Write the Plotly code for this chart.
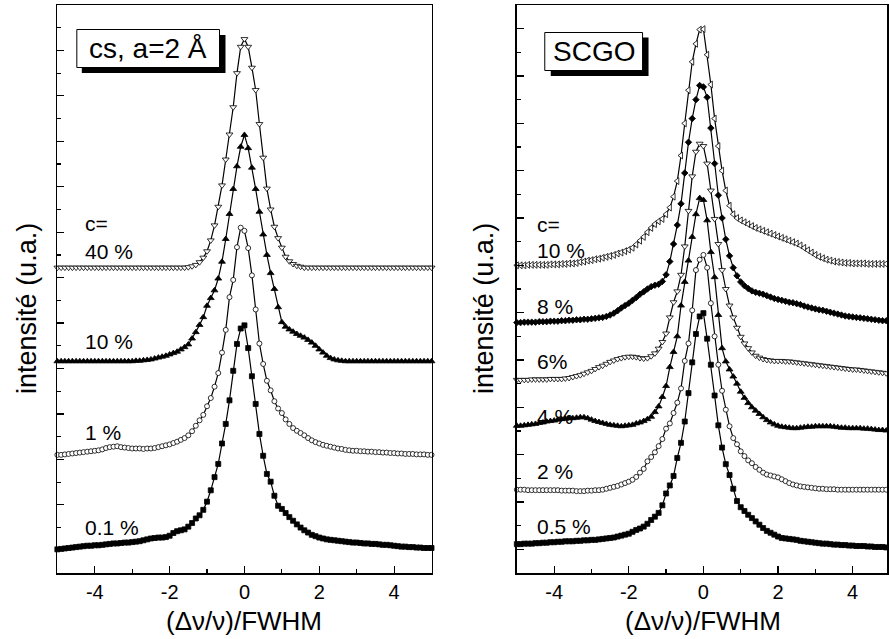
import plotly.graph_objects as go

# ---------------- data ----------------
X = [round(-5 + 0.1 * i, 1) for i in range(101)]  # sample grid, (Δν/ν)/FWHM

# left panel: "cs, a=2 Å"
L_LABELS = ["40 %", "10 %", "1 %", "0.1 %"]
L40 = [6.22, 6.22, 6.22, 6.22, 6.22, 6.22, 6.22, 6.22, 6.22, 6.22,
       6.22, 6.22, 6.22, 6.22, 6.22, 6.22, 6.22, 6.22, 6.22, 6.22,
       6.22, 6.22, 6.22, 6.22, 6.22, 6.22, 6.22, 6.22, 6.22, 6.22,
       6.22, 6.22, 6.22, 6.22, 6.22, 6.23, 6.25, 6.28, 6.34, 6.44,
       6.58, 6.82, 7.15, 7.56, 8.03, 8.60, 9.15, 9.75, 10.50, 11.08,
       11.25, 11.08, 10.62, 10.13, 9.38, 8.64, 7.96, 7.50, 7.12, 6.87,
       6.66, 6.46, 6.36, 6.30, 6.26, 6.24, 6.22, 6.22, 6.22, 6.22,
       6.22, 6.22, 6.22, 6.22, 6.22, 6.22, 6.22, 6.22, 6.22, 6.22,
       6.22, 6.22, 6.22, 6.22, 6.22, 6.22, 6.22, 6.22, 6.22, 6.22,
       6.22, 6.22, 6.22, 6.22, 6.22, 6.22, 6.22, 6.22, 6.22, 6.22,
       6.22]
L10 = [4.16, 4.16, 4.16, 4.16, 4.16, 4.16, 4.16, 4.16, 4.16, 4.16,
       4.16, 4.16, 4.16, 4.16, 4.16, 4.16, 4.16, 4.16, 4.16, 4.16,
       4.16, 4.17, 4.17, 4.18, 4.19, 4.20, 4.22, 4.24, 4.26, 4.28,
       4.31, 4.34, 4.37, 4.42, 4.47, 4.53, 4.66, 4.80, 4.96, 5.13,
       5.38, 5.55, 5.72, 5.98, 6.35, 6.85, 7.40, 7.95, 8.45, 8.88,
       9.14, 8.85, 8.42, 7.95, 7.45, 6.95, 6.50, 6.10, 5.75, 5.35,
       5.02, 4.92, 4.86, 4.81, 4.76, 4.72, 4.68, 4.63, 4.57, 4.50,
       4.42, 4.35, 4.28, 4.23, 4.20, 4.18, 4.17, 4.16, 4.16, 4.16,
       4.16, 4.16, 4.16, 4.16, 4.16, 4.16, 4.16, 4.16, 4.16, 4.16,
       4.16, 4.16, 4.16, 4.16, 4.16, 4.16, 4.16, 4.16, 4.16, 4.16,
       4.16]
L1 = [2.10, 2.10, 2.11, 2.12, 2.13, 2.14, 2.15, 2.16, 2.17, 2.18,
      2.19, 2.20, 2.22, 2.25, 2.27, 2.28, 2.29, 2.27, 2.26, 2.25,
      2.24, 2.24, 2.24, 2.23, 2.24, 2.24, 2.25, 2.27, 2.29, 2.31,
      2.33, 2.36, 2.39, 2.43, 2.47, 2.53, 2.62, 2.74, 2.86, 2.98,
      3.17, 3.35, 3.60, 3.90, 4.35, 4.85, 5.57, 5.95, 6.67, 7.10,
      7.03, 6.65, 6.05, 5.30, 4.55, 4.10, 3.73, 3.52, 3.28, 3.12,
      3.02, 2.88, 2.78, 2.69, 2.63, 2.58, 2.53, 2.47, 2.42, 2.38,
      2.35, 2.32, 2.30, 2.28, 2.26, 2.24, 2.23, 2.21, 2.20, 2.19,
      2.19, 2.18, 2.18, 2.17, 2.17, 2.16, 2.16, 2.15, 2.15, 2.14,
      2.14, 2.13, 2.13, 2.12, 2.12, 2.12, 2.11, 2.11, 2.11, 2.10,
      2.10]
L01 = [0.02, 0.03, 0.04, 0.05, 0.06, 0.07, 0.08, 0.09, 0.10, 0.10,
       0.11, 0.11, 0.12, 0.13, 0.14, 0.15, 0.15, 0.16, 0.17, 0.17,
       0.18, 0.19, 0.20, 0.22, 0.24, 0.26, 0.27, 0.28, 0.28, 0.29,
       0.32, 0.38, 0.42, 0.44, 0.46, 0.52, 0.60, 0.70, 0.77, 0.89,
       1.07, 1.32, 1.61, 1.90, 2.35, 2.78, 3.30, 3.95, 4.54, 4.88,
       4.95, 4.45, 3.83, 3.22, 2.56, 2.08, 1.68, 1.51, 1.20, 0.98,
       0.91, 0.82, 0.73, 0.65, 0.57, 0.50, 0.44, 0.39, 0.34, 0.31,
       0.28, 0.26, 0.24, 0.23, 0.22, 0.21, 0.20, 0.19, 0.18, 0.17,
       0.17, 0.16, 0.15, 0.15, 0.14, 0.14, 0.13, 0.12, 0.12, 0.11,
       0.10, 0.09, 0.08, 0.08, 0.07, 0.07, 0.06, 0.06, 0.05, 0.05,
       0.05]

# right panel: SCGO
R_LABELS = ["10 %", "8 %", "6%", "4 %", "2 %", "0.5 %"]
R10 = [6.00, 6.00, 6.00, 6.01, 6.01, 6.01, 6.01, 6.01, 6.01, 6.02,
       6.02, 6.02, 6.03, 6.03, 6.04, 6.04, 6.05, 6.07, 6.08, 6.10,
       6.11, 6.13, 6.14, 6.16, 6.18, 6.20, 6.22, 6.25, 6.27, 6.30,
       6.33, 6.37, 6.44, 6.52, 6.60, 6.70, 6.79, 6.87, 6.93, 6.98,
       7.08, 7.22, 7.45, 7.78, 8.32, 9.00, 9.70, 10.30, 10.68, 10.98,
       10.99, 10.45, 9.82, 9.10, 8.52, 8.00, 7.58, 7.26, 7.08, 7.00,
       6.95, 6.91, 6.87, 6.83, 6.79, 6.76, 6.73, 6.70, 6.67, 6.64,
       6.61, 6.58, 6.55, 6.52, 6.49, 6.46, 6.42, 6.37, 6.32, 6.27,
       6.22, 6.18, 6.15, 6.12, 6.10, 6.08, 6.07, 6.06, 6.05, 6.05,
       6.04, 6.04, 6.04, 6.04, 6.03, 6.03, 6.03, 6.03, 6.03, 6.03,
       6.03]
R8 = [4.79, 4.79, 4.80, 4.80, 4.80, 4.80, 4.81, 4.81, 4.81, 4.82,
      4.82, 4.82, 4.83, 4.83, 4.84, 4.84, 4.85, 4.85, 4.86, 4.86,
      4.87, 4.88, 4.89, 4.90, 4.92, 4.95, 4.99, 5.04, 5.10, 5.15,
      5.20, 5.26, 5.32, 5.39, 5.44, 5.50, 5.55, 5.58, 5.60, 5.66,
      5.80, 6.08, 6.45, 6.85, 7.30, 7.95, 8.60, 9.10, 9.50, 9.80,
      9.77, 9.55, 8.90, 8.15, 7.48, 7.00, 6.55, 6.20, 5.95, 5.78,
      5.65, 5.57, 5.51, 5.46, 5.43, 5.41, 5.39, 5.36, 5.33, 5.30,
      5.28, 5.26, 5.24, 5.22, 5.21, 5.19, 5.17, 5.14, 5.12, 5.10,
      5.08, 5.06, 5.05, 5.03, 5.01, 4.99, 4.97, 4.95, 4.93, 4.92,
      4.91, 4.90, 4.89, 4.88, 4.87, 4.86, 4.85, 4.84, 4.83, 4.83,
      4.82]
R6 = [3.58, 3.58, 3.58, 3.58, 3.59, 3.59, 3.59, 3.59, 3.59, 3.60,
      3.60, 3.60, 3.60, 3.61, 3.62, 3.64, 3.66, 3.68, 3.71, 3.74,
      3.77, 3.81, 3.85, 3.88, 3.92, 3.96, 3.99, 4.02, 4.04, 4.06,
      4.07, 4.07, 4.06, 4.04, 4.03, 4.04, 4.08, 4.14, 4.24, 4.38,
      4.56, 4.90, 5.22, 5.45, 5.80, 6.40, 7.15, 7.88, 8.40, 8.57,
      8.52, 8.15, 7.58, 6.98, 6.45, 5.90, 5.50, 5.15, 4.90, 4.68,
      4.49, 4.35, 4.25, 4.16, 4.09, 4.05, 4.02, 4.00, 3.99, 3.98,
      3.98, 3.98, 3.97, 3.97, 3.96, 3.95, 3.94, 3.93, 3.92, 3.91,
      3.90, 3.89, 3.88, 3.87, 3.86, 3.85, 3.84, 3.83, 3.82, 3.81,
      3.80, 3.80, 3.79, 3.78, 3.77, 3.76, 3.75, 3.74, 3.73, 3.72,
      3.72]
R4 = [2.61, 2.61, 2.62, 2.63, 2.64, 2.65, 2.67, 2.68, 2.70, 2.71,
      2.72, 2.74, 2.75, 2.76, 2.77, 2.77, 2.78, 2.79, 2.79, 2.77,
      2.74, 2.71, 2.69, 2.67, 2.65, 2.63, 2.62, 2.61, 2.60, 2.61,
      2.62, 2.63, 2.66, 2.68, 2.71, 2.75, 2.80, 2.90, 3.02, 3.22,
      3.45, 3.85, 4.17, 4.50, 5.15, 5.65, 6.10, 6.60, 7.08, 7.42,
      7.38, 6.95, 6.28, 5.75, 4.95, 4.25, 3.97, 3.80, 3.65, 3.50,
      3.33, 3.20, 3.09, 3.00, 2.93, 2.86, 2.79, 2.73, 2.68, 2.64,
      2.61, 2.59, 2.58, 2.57, 2.56, 2.56, 2.57, 2.58, 2.59, 2.59,
      2.60, 2.60, 2.60, 2.60, 2.60, 2.59, 2.58, 2.57, 2.57, 2.56,
      2.56, 2.56, 2.56, 2.55, 2.55, 2.54, 2.53, 2.52, 2.52, 2.51,
      2.51]
R2 = [1.26, 1.26, 1.26, 1.25, 1.25, 1.25, 1.25, 1.25, 1.25, 1.25,
      1.25, 1.25, 1.24, 1.24, 1.24, 1.24, 1.23, 1.23, 1.23, 1.24,
      1.24, 1.25, 1.25, 1.26, 1.28, 1.30, 1.32, 1.34, 1.37, 1.40,
      1.43, 1.47, 1.53, 1.62, 1.70, 1.86, 1.95, 2.05, 2.18, 2.33,
      2.55, 2.66, 2.88, 3.10, 3.40, 3.98, 4.35, 5.05, 5.90, 6.12,
      6.22, 5.95, 5.20, 4.50, 3.90, 3.35, 2.95, 2.60, 2.35, 2.22,
      2.07, 1.97, 1.88, 1.82, 1.74, 1.68, 1.62, 1.58, 1.56, 1.54,
      1.52, 1.48, 1.44, 1.40, 1.37, 1.35, 1.33, 1.32, 1.31, 1.30,
      1.29, 1.28, 1.28, 1.27, 1.27, 1.27, 1.26, 1.26, 1.26, 1.26,
      1.26, 1.26, 1.26, 1.26, 1.26, 1.26, 1.26, 1.26, 1.26, 1.26,
      1.26]
R05 = [0.11, 0.11, 0.12, 0.12, 0.12, 0.13, 0.13, 0.14, 0.14, 0.15,
       0.15, 0.16, 0.16, 0.17, 0.17, 0.17, 0.18, 0.18, 0.19, 0.19,
       0.20, 0.20, 0.21, 0.22, 0.23, 0.24, 0.25, 0.27, 0.29, 0.31,
       0.33, 0.37, 0.41, 0.44, 0.48, 0.54, 0.62, 0.69, 0.77, 0.93,
       1.18, 1.35, 1.55, 1.93, 2.25, 2.70, 3.30, 3.95, 4.55, 4.92,
       4.99, 4.45, 3.90, 3.25, 2.62, 2.15, 1.80, 1.57, 1.28, 1.02,
       0.89, 0.81, 0.73, 0.66, 0.59, 0.52, 0.45, 0.39, 0.35, 0.31,
       0.27, 0.24, 0.23, 0.22, 0.21, 0.20, 0.18, 0.17, 0.16, 0.15,
       0.14, 0.13, 0.12, 0.12, 0.11, 0.10, 0.10, 0.09, 0.09, 0.08,
       0.08, 0.07, 0.07, 0.07, 0.06, 0.06, 0.05, 0.05, 0.05, 0.04,
       0.04]

X_TICKS = [-4, -2, 0, 2, 4]
X_TICKTEXT = ["-4", "-2", "0", "2", "4"]
X_MINOR = [-5, -3, -1, 1, 3, 5]

# ---------------- figure ----------------
W, H = 889, 639
FONT = "Liberation Sans, Arial, Helvetica, sans-serif"


def px(x):
    return x / W


def py(y):
    return 1 - y / H


fig = go.Figure()

left_series = [
    (L40, "triangle-down", "white", 6),
    (L10, "triangle-up", "black", 6),
    (L1, "circle", "white", 5),
    (L01, "square", "black", 5),
]
right_series = [
    (R10, "triangle-left", "white", 6),
    (R8, "diamond", "black", 5),
    (R6, "triangle-down", "white", 6),
    (R4, "triangle-up", "black", 6),
    (R2, "circle", "white", 5),
    (R05, "square", "black", 5),
]

for ys, sym, fill, size in left_series:
    fig.add_trace(go.Scatter(
        x=X, y=ys, mode="lines+markers", xaxis="x", yaxis="y",
        line=dict(color="black", width=1.2),
        marker=dict(symbol=sym, size=size, color=fill,
                    line=dict(color="black", width=0.8)),
        cliponaxis=False, hoverinfo="skip"))

for ys, sym, fill, size in right_series:
    fig.add_trace(go.Scatter(
        x=X, y=ys, mode="lines+markers", xaxis="x2", yaxis="y2",
        line=dict(color="black", width=1.2),
        marker=dict(symbol=sym, size=size, color=fill,
                    line=dict(color="black", width=0.8)),
        cliponaxis=False, hoverinfo="skip"))

ydom = [py(573), py(5)]
common_x = dict(
    showline=True, linecolor="black", linewidth=1.5, mirror=True,
    ticks="inside", ticklen=7, tickwidth=1.2, tickcolor="black",
    tickmode="array", tickvals=X_TICKS, ticktext=X_TICKTEXT,
    minor=dict(tickmode="array", tickvals=X_MINOR, ticks="inside",
               ticklen=4, tickwidth=1.2, tickcolor="black"),
    showgrid=False, zeroline=False,
    tickfont=dict(family=FONT, size=20, color="black"),
)
common_y = dict(
    showline=True, linecolor="black", linewidth=1.5, mirror=True,
    ticks="inside", ticklen=7, tickwidth=1.2, tickcolor="black",
    tickmode="array", tickvals=list(range(0, 13)),
    minor=dict(tickmode="array", tickvals=[k + 0.5 for k in range(-1, 12)],
               ticks="inside", ticklen=4, tickwidth=1.2, tickcolor="black"),
    showticklabels=False, showgrid=False, zeroline=False,
)

fig.update_layout(
    width=W, height=H,
    margin=dict(l=0, r=0, t=0, b=0),
    paper_bgcolor="white", plot_bgcolor="white",
    showlegend=False,
    font=dict(family=FONT, color="black"),
    xaxis=dict(domain=[px(57.5), px(432.5)], range=[-5, 5], anchor="y", **common_x),
    yaxis=dict(domain=ydom, range=[-0.5, 12], anchor="x", **common_y),
    xaxis2=dict(domain=[px(518), 1.0], range=[-5, 4.92], anchor="y2", **common_x),
    yaxis2=dict(domain=ydom, range=[-0.5, 11.5], anchor="x2", **common_y),
)

ann = []


def text(x, y, s, size, xanchor="center", angle=0):
    ann.append(dict(x=px(x), y=py(y), xref="paper", yref="paper", text=s,
                    showarrow=False, xanchor=xanchor, yanchor="middle",
                    textangle=angle,
                    font=dict(family=FONT, size=size, color="black")))


# axis titles
text(245, 621, "(Δν/ν)/FWHM", 26)
text(705, 621, "(Δν/ν)/FWHM", 26)
text(27, 308, "intensité (u.a.)", 27, angle=-90)
text(485, 308, "intensité (u.a.)", 27, angle=-90)

# curve labels, left
text(83, 224, "c=", 21, "left")
for lab, yy in zip(L_LABELS, [251, 341, 432, 527]):
    text(83, yy, lab, 21, "left")
# curve labels, right
text(536, 225, "c=", 21, "left")
for lab, yy in zip(R_LABELS, [250, 306, 361, 416, 471, 526]):
    text(536, yy, lab, 21, "left")

# boxed titles
text(148, 48.5, "cs, a=2 Å", 28)
text(595, 51.5, "SCGO", 28)

fig.update_layout(annotations=ann)

shapes = []
for (x0, y0, x1, y1), (sx0, sy0, sx1, sy1) in [
    ((77, 29.5, 220, 67.5), (82, 35, 226, 73)),
    ((546, 32.5, 644, 70.5), (552, 37.5, 650, 76)),
]:
    shapes.append(dict(type="rect", xref="paper", yref="paper",
                       x0=px(sx0), x1=px(sx1), y0=py(sy1), y1=py(sy0),
                       fillcolor="black", line=dict(width=0), layer="above"))
    shapes.append(dict(type="rect", xref="paper", yref="paper",
                       x0=px(x0), x1=px(x1), y0=py(y1), y1=py(y0),
                       fillcolor="white", line=dict(color="black", width=1),
                       layer="above"))
fig.update_layout(shapes=shapes)

# the page body has a default 8px margin; remove it so the figure fills the window
fig.write_html("out.html",
               config={"displayModeBar": False, "staticPlot": True},
               post_script="document.body.style.margin='0';document.body.style.overflow='hidden';")
